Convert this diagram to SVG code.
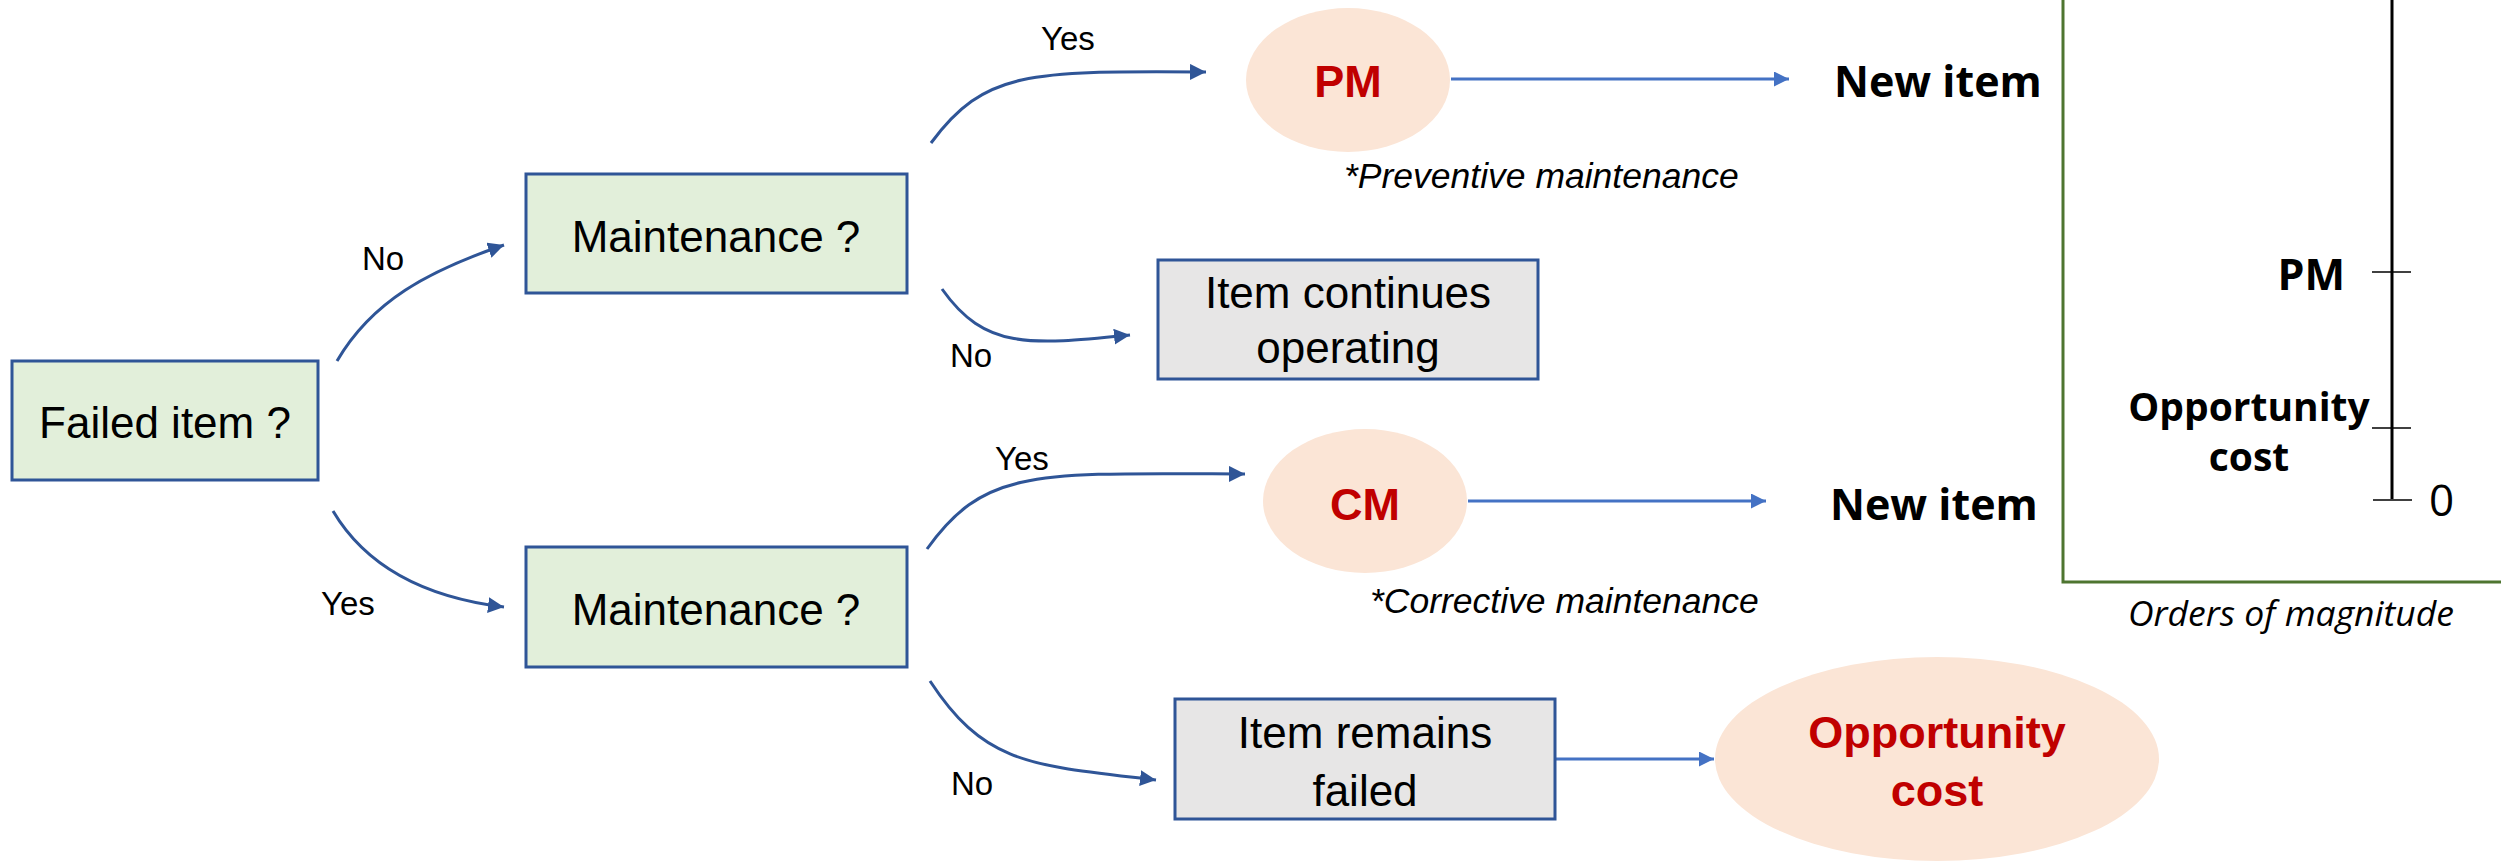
<svg xmlns="http://www.w3.org/2000/svg" width="2501" height="862" viewBox="0 0 2501 862">
<defs>
<marker id="ahDark" markerUnits="userSpaceOnUse" markerWidth="17" markerHeight="17" refX="16" refY="8" orient="auto" viewBox="0 0 17 17">
<path d="M0,0 L16,8 L0,16 z" fill="#2F5597"/>
</marker>
<marker id="ahLight" markerUnits="userSpaceOnUse" markerWidth="16" markerHeight="16" refX="15" refY="7.5" orient="auto" viewBox="0 0 16 16">
<path d="M0,0 L15,7.5 L0,15 z" fill="#4472C4"/>
</marker>
<style>
.q{fill:#E2EFDA;stroke:#2F5597;stroke-width:3}
.g{fill:#E7E6E6;stroke:#2F5597;stroke-width:3}
.e{fill:#FBE5D6;stroke:none}
.t{font-family:"Liberation Sans",Arial,sans-serif;font-size:44px;fill:#000;text-anchor:middle}
.r{font-family:"Liberation Sans",Arial,sans-serif;font-size:45px;font-weight:bold;fill:#C00000;text-anchor:middle}
.lbl{font-family:"Liberation Sans",Arial,sans-serif;font-size:33px;fill:#000}
.note{font-family:"Liberation Sans",Arial,sans-serif;font-size:35.5px;font-style:italic;fill:#000}
.ni{font-family:"Open Sans","Liberation Sans",sans-serif;font-size:43px;font-weight:bold;fill:#000}
.ax{font-family:"Open Sans","Liberation Sans",sans-serif;font-weight:bold;fill:#000}
.cv{fill:none;stroke:#2F5597;stroke-width:3;marker-end:url(#ahDark)}
.st{fill:none;stroke:#4472C4;stroke-width:3;marker-end:url(#ahLight)}
</style>
</defs>
<rect width="2501" height="862" fill="#FFFFFF"/>

<g id="connectors">
<path class="cv" d="M337,361 C372,301 428,271 504,245"/>
<path class="cv" d="M333,511 C368,570 430,598 504,607"/>
<path class="cv" d="M931,143 C985,70 1030,71 1206,72"/>
<path class="cv" d="M942,289 C985,350 1030,345 1130,335"/>
<path class="cv" d="M927,549 C985,468 1035,473 1245,474"/>
<path class="cv" d="M930,681 C985,765 1030,765 1156,780"/>
<path class="st" d="M1451,79 L1789,79"/>
<path class="st" d="M1468,501 L1766,501"/>
<path class="st" d="M1556,759 L1714,759"/>
<text class="lbl" x="362" y="270">No</text>
<text class="lbl" x="321" y="615">Yes</text>
<text class="lbl" x="1041" y="50">Yes</text>
<text class="lbl" x="950" y="367">No</text>
<text class="lbl" x="995" y="470">Yes</text>
<text class="lbl" x="951" y="795">No</text>
</g>

<g id="failed-item">
<rect class="q" x="12" y="361" width="306" height="119"/>
<text class="t" x="165" y="438" font-size="45">Failed item ?</text>
</g>

<g id="maintenance-1">
<rect class="q" x="526" y="174" width="381" height="119"/>
<text class="t" x="716" y="252">Maintenance ?</text>
</g>

<g id="maintenance-2">
<rect class="q" x="526" y="547" width="381" height="120"/>
<text class="t" x="716" y="625">Maintenance ?</text>
</g>

<g id="item-continues">
<rect class="g" x="1158" y="260" width="380" height="119"/>
<text class="t" x="1348" y="308">Item continues</text>
<text class="t" x="1348" y="363">operating</text>
</g>

<g id="item-remains">
<rect class="g" x="1175" y="699" width="380" height="120"/>
<text class="t" x="1365" y="748">Item remains</text>
<text class="t" x="1365" y="806">failed</text>
</g>

<g id="pm">
<ellipse class="e" cx="1348" cy="80" rx="102" ry="72"/>
<text class="r" x="1348" y="97">PM</text>
<text class="note" x="1344" y="188">*Preventive maintenance</text>
</g>

<g id="cm">
<ellipse class="e" cx="1365" cy="501" rx="102" ry="72"/>
<text class="r" x="1365" y="520">CM</text>
<text class="note" x="1370" y="613">*Corrective maintenance</text>
</g>

<g id="opportunity-cost">
<ellipse class="e" cx="1937" cy="759" rx="222" ry="102"/>
<text class="r" x="1937" y="748">Opportunity</text>
<text class="r" x="1937" y="806">cost</text>
</g>

<g id="new-item-1">
<text class="ni" x="1834" y="97">New item</text>
</g>

<g id="new-item-2">
<text class="ni" x="1830" y="520">New item</text>
</g>

<g id="magnitude-chart">
<path d="M2063,0 L2063,582 L2501,582" fill="none" stroke="#4E7530" stroke-width="3"/>
<line x1="2392" y1="0" x2="2392" y2="499" stroke="#000" stroke-width="3"/>
<line x1="2372" y1="272" x2="2411" y2="272" stroke="#000" stroke-width="1.5"/>
<line x1="2372" y1="428" x2="2411" y2="428" stroke="#000" stroke-width="1.5"/>
<line x1="2373" y1="500" x2="2412" y2="500" stroke="#000" stroke-width="1.5"/>
<text class="ax" x="2345" y="290" font-size="43" text-anchor="end">PM</text>
<text class="ax" x="2249" y="421" font-size="39" text-anchor="middle">Opportunity</text>
<text class="ax" x="2249" y="471" font-size="39" text-anchor="middle">cost</text>
<text x="2429" y="516" font-family="Open Sans, Liberation Sans, sans-serif" font-size="44" fill="#000">0</text>
<text x="2128" y="626" font-family="Open Sans, Liberation Sans, sans-serif" font-size="35.5" font-style="italic" fill="#000">Orders of magnitude</text>
</g>
</svg>
